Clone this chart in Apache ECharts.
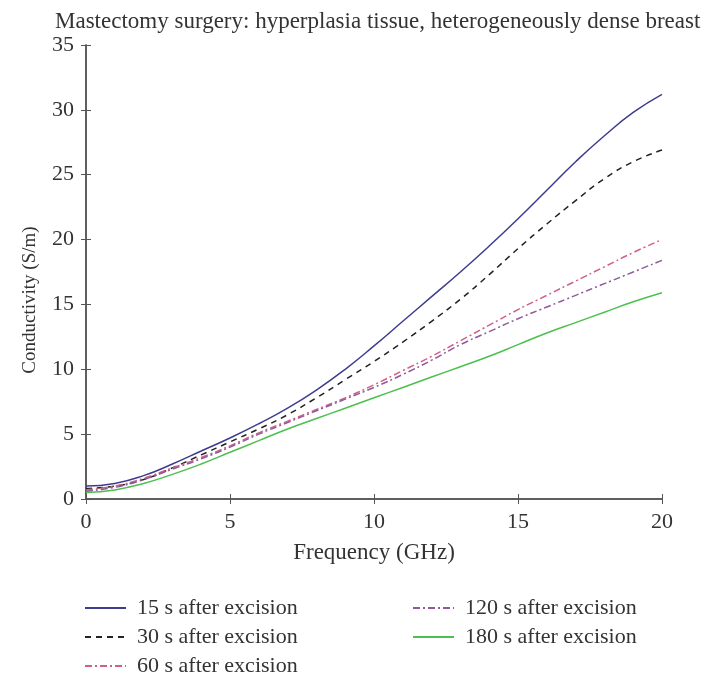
<!DOCTYPE html>
<html>
<head>
<meta charset="utf-8">
<script src="https://cdn.jsdelivr.net/npm/echarts@6/dist/echarts.min.js"></script>
<style>html,body{margin:0;padding:0;background:#fff}#c{width:708px;height:674px}</style>
</head>
<body>
<div id="c"></div>
<script>
const freq = [0,1,2,3,4,5,6,7,8,9,10,11,12,13,14,15,16,17,18,19,20];
const s15  = [1.0,1.2,1.8,2.7,3.7,4.7,5.8,7.0,8.4,10.0,11.8,13.7,15.6,17.5,19.5,21.6,23.8,26.0,28.0,29.8,31.2];
const s30  = [0.8,1.0,1.5,2.4,3.4,4.4,5.4,6.5,7.8,9.2,10.6,12.1,13.7,15.4,17.3,19.3,21.2,23.0,24.7,26.0,26.9];
const s60  = [0.7,1.0,1.6,2.4,3.2,4.1,5.1,6.0,6.9,7.8,8.8,9.9,11.0,12.2,13.4,14.6,15.7,16.8,17.9,19.0,20.0];
const s120 = [0.6,0.9,1.5,2.3,3.1,4.0,5.0,5.9,6.8,7.7,8.6,9.6,10.7,11.9,12.9,13.9,14.8,15.7,16.6,17.5,18.4];
const s180 = [0.5,0.7,1.2,1.9,2.7,3.6,4.5,5.4,6.2,7.0,7.8,8.6,9.4,10.2,11.0,11.9,12.8,13.6,14.4,15.2,15.9];
const names = ['15 s after excision','30 s after excision','60 s after excision','120 s after excision','180 s after excision'];
const xTicks = [0,5,10,15,20];
const yTicks = [0,5,10,15,20,25,30,35];

const font = 'Liberation Serif';
const txt = '#333';
const axisCol = '#555';
function pts(v){ return freq.map((f,i)=>[f,v[i]]); }

const chart = echarts.init(document.getElementById('c'), null, {renderer:'canvas'});
const baseAxis = {
  axisLine:{show:true,lineStyle:{color:axisCol,width:1.5}},
  axisTick:{show:true,inside:true,length:5,lineStyle:{color:axisCol}},
  splitLine:{show:false}
};
const legendPos = [[84,597],[84,626],[84,655],[412,597],[412,626]];
const legends = names.map((n,i)=>({data:[n],left:legendPos[i][0],top:legendPos[i][1],padding:0,
  itemWidth:41,itemHeight:14,itemStyle:{opacity:0},
  textStyle:{fontFamily:font,fontSize:22,color:txt,padding:[0,0,0,6]}}));
chart.setOption({
  animation:false,
  backgroundColor:'#fff',
  title:{text:'Mastectomy surgery: hyperplasia tissue, heterogeneously dense breast',
    left:50, top:5, textStyle:{fontFamily:font,fontSize:23,fontWeight:'normal',color:txt}},
  grid:{left:86,right:46,top:45,bottom:175},
  xAxis:[
    Object.assign({type:'value',min:xTicks[0],max:xTicks[xTicks.length-1],interval:5,position:'bottom',
      name:'Frequency (GHz)',nameLocation:'middle',nameGap:42,
      nameTextStyle:{fontFamily:font,fontSize:23,color:txt},
      axisLabel:{fontFamily:font,fontSize:22,color:txt,margin:12}},baseAxis),
    Object.assign({type:'value',min:0,max:20,interval:5,position:'top',axisLabel:{show:false}},baseAxis)
  ],
  yAxis:[
    Object.assign({type:'value',min:yTicks[0],max:yTicks[yTicks.length-1],interval:5,position:'left',
      name:'Conductivity (S/m)',nameLocation:'middle',nameGap:46,
      nameTextStyle:{fontFamily:font,fontSize:19,color:txt,padding:[0,56,0,0]},
      axisLabel:{fontFamily:font,fontSize:22,color:txt,margin:12}},baseAxis),
    Object.assign({type:'value',min:0,max:35,interval:5,position:'right',axisLabel:{show:false}},baseAxis)
  ],
  legend:legends,
  series:[
    {name:names[0],type:'line',smooth:true,symbol:'none',data:pts(s15),lineStyle:{color:'#3d3d8f',width:1.5,type:'solid'},itemStyle:{color:'#3d3d8f'}},
    {name:names[1],type:'line',smooth:true,symbol:'none',data:pts(s30),lineStyle:{color:'#222',width:1.5,type:[6,5]},itemStyle:{color:'#222'}},
    {name:names[2],type:'line',smooth:true,symbol:'none',data:pts(s60),lineStyle:{color:'#d0608a',width:1.5,type:[7,3,2,3]},itemStyle:{color:'#d0608a'}},
    {name:names[3],type:'line',smooth:true,symbol:'none',data:pts(s120),lineStyle:{color:'#8e5a9a',width:1.5,type:[7,3,2,3]},itemStyle:{color:'#8e5a9a'}},
    {name:names[4],type:'line',smooth:true,symbol:'none',data:pts(s180),lineStyle:{color:'#4cc04c',width:1.5,type:'solid'},itemStyle:{color:'#4cc04c'}}
  ]
});
</script>
</body>
</html>
